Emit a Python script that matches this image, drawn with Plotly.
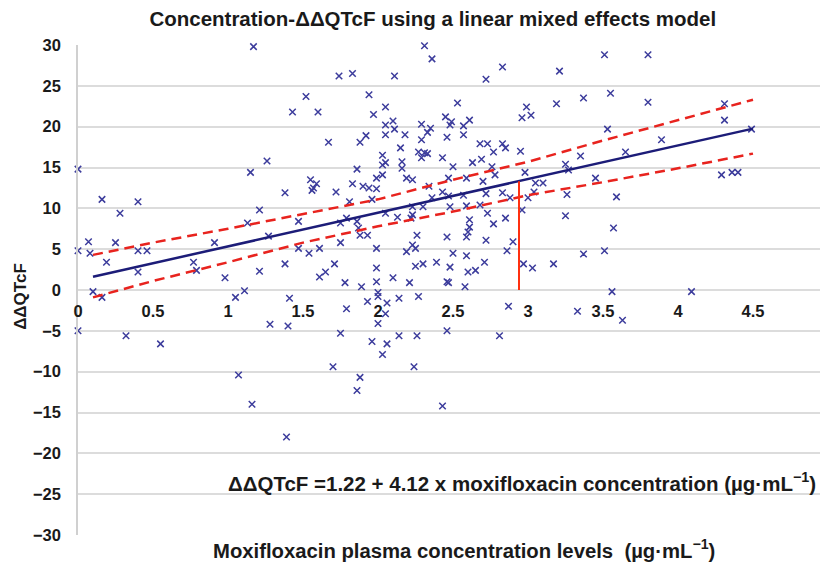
import plotly.graph_objects as go

# Observed data points (moxifloxacin concentration, ΔΔQTcF)
conc = [0.00, 0.00, 0.00, 0.07, 0.08, 0.10, 0.16, 0.16, 0.19, 0.25, 0.28, 0.32, 0.40, 0.40, 0.46, 0.40,
        0.55, 0.77, 0.79, 0.91, 0.98, 1.05, 1.07, 1.11, 1.13, 1.15, 1.16, 1.17, 1.21, 1.21, 1.26, 1.27,
        1.28, 1.38, 1.38, 1.39, 1.40, 1.41, 1.43, 1.47, 1.47, 1.52, 1.54, 1.55, 1.57, 1.59, 1.56, 1.60,
        1.61, 1.61, 1.65, 1.67, 1.70, 1.71, 1.72, 1.74, 1.75, 1.75, 1.75, 1.78, 1.79, 1.79, 1.81, 1.83,
        1.83, 1.86, 1.86, 1.86, 1.87, 1.88, 1.88, 1.88, 1.89, 1.90, 1.92, 1.93, 1.93, 1.94, 1.94, 1.96,
        1.96, 1.97, 1.99, 1.99, 1.99, 1.99, 1.99, 2.00, 2.00, 2.00, 2.03, 2.03, 2.03, 2.03, 2.05, 2.05,
        2.05, 2.05, 2.05, 2.05, 2.06, 2.06, 2.10, 2.10, 2.11, 2.11, 2.13, 2.14, 2.14, 2.15, 2.16, 2.16,
        2.18, 2.19, 2.19, 2.21, 2.23, 2.23, 2.23, 2.22, 2.23, 2.24, 2.25, 2.25, 2.26, 2.26, 2.27, 2.27,
        2.29, 2.29, 2.29, 2.30, 2.30, 2.31, 2.31, 2.33, 2.33, 2.34, 2.35, 2.36, 2.36, 2.39, 2.43, 2.43,
        2.43, 2.45, 2.46, 2.46, 2.46, 2.47, 2.46, 2.47, 2.47, 2.48, 2.48, 2.48, 2.49, 2.50, 2.50, 2.53,
        2.57, 2.57, 2.57, 2.58, 2.59, 2.59, 2.59, 2.59, 2.60, 2.60, 2.61, 2.61, 2.61, 2.63, 2.65, 2.68,
        2.68, 2.69, 2.70, 2.71, 2.72, 2.72, 2.72, 2.73, 2.73, 2.76, 2.77, 2.77, 2.78, 2.81, 2.83, 2.83,
        2.83, 2.85, 2.85, 2.86, 2.87, 2.88, 2.90, 2.95, 2.96, 2.96, 2.97, 2.98, 2.99, 3.00, 3.02, 3.03,
        3.04, 3.05, 3.10, 3.17, 3.19, 3.21, 3.25, 3.25, 3.26, 3.27, 3.33, 3.35, 3.37, 3.37, 3.45, 3.51,
        3.51, 3.53, 3.55, 3.56, 3.57, 3.59, 3.63, 3.65, 3.80, 3.80, 3.89, 4.09, 4.29, 4.31, 4.31, 4.36,
        4.40, 4.49]
dqtcf = [14.8, 4.8, -5.0, 5.9, 4.5, -0.2, -0.9, 11.1, 3.4, 5.8, 9.4, -5.6, 10.8, 4.8, 4.8, 2.2,
         -6.6, 3.4, 2.4, 5.8, 1.5, -0.9, -10.4, -0.1, 8.2, 14.4, -14.0, 29.8, 9.8, 2.3, 15.8, 6.6,
         -4.2, 11.9, 3.2, -18.0, -4.4, -1.0, 21.8, 8.4, 5.1, 23.7, 4.5, 13.5, 12.5, 13.0, 12.2, 21.8,
         5.1, 1.6, 2.2, 18.1, -9.4, 3.2, 12.0, 26.2, 8.2, 5.8, -5.3, 0.9, 8.8, -2.3, 10.8, 26.5,
         13.0, 14.8, 8.4, -12.3, 7.6, 18.1, 6.7, -10.7, 0.4, 12.7, 18.9, 6.7, -1.4, 23.9, 12.5, 11.1,
         -6.3, 21.5, 13.7, 12.4, 5.1, 2.7, 1.0, -0.3, -0.8, -4.1, 16.5, 15.3, 14.1, -7.9, 22.4, 20.2,
         19.0, 15.6, 9.4, -2.9, -1.6, -6.6, 20.7, 1.5, 26.2, 19.7, 8.9, -1.0, -5.6, 17.4, 15.7, 14.9,
         19.0, 13.7, 4.7, 0.9, 13.5, 10.2, 9.2, 8.8, 5.5, -9.4, 5.1, 2.9, 6.7, -5.6, 16.9, -0.8,
         20.3, 18.4, 16.2, 10.2, 3.2, 29.9, 16.8, 19.3, 16.7, 12.7, 19.8, 28.3, 11.3, 3.4, 16.2, 12.0,
         -14.2, 21.2, 18.7, 6.5, 1.0, 0.9, -5.0, 13.7, 11.5, 20.2, 10.2, 2.8, 20.6, 15.1, 4.5, 22.9,
         20.1, 19.0, 11.6, 0.4, 13.7, 10.3, 6.5, 4.2, 7.1, 2.2, 20.8, 8.6, 7.7, 15.6, 2.4, 17.9,
         10.4, 16.0, 13.3, 3.4, 25.8, 11.8, 6.1, 17.9, 9.4, 15.1, 16.9, 8.1, 14.1, -5.6, 27.3, 17.9,
         11.9, 17.4, 8.8, 4.8, -2.0, 11.3, 5.9, 17.0, 21.1, 9.8, 3.2, 14.4, 22.4, 11.3, 21.4, 2.7,
         12.0, 13.1, 13.1, 3.2, 22.8, 26.8, 15.4, 9.1, 11.7, 14.7, -2.6, 16.4, 23.5, 4.4, 13.7, 28.8,
         4.8, 19.7, 24.1, -0.2, 7.6, 11.4, -3.7, 16.9, 28.8, 23.0, 18.4, -0.2, 14.1, 22.8, 20.8, 14.4,
         14.4, 19.7]

# Fitted model line (ends)
fit_x = [0.1, 4.5]
fit_y = [1.63, 19.76]

# Confidence bounds
ci_x = [0.1, 0.5, 1.0, 1.5, 2.0, 2.5, 3.0, 3.5, 4.0, 4.5]
ci_upper = [4.3, 5.8, 7.5, 9.3, 11.1, 13.5, 15.7, 18.3, 20.8, 23.3]
ci_lower = [-0.9, 1.1, 3.4, 5.8, 7.8, 9.6, 11.6, 13.2, 14.9, 16.7]

# Vertical marker
cmax_x = [2.94, 2.94]
cmax_y = [0, 13.33]

x_ticks = [0, 0.5, 1, 1.5, 2, 2.5, 3, 3.5, 4, 4.5, 5]
x_tick_labels = ["0", "0.5", "1", "1.5", "2", "2.5", "3", "3.5", "4", "4.5", "5"]
y_ticks = list(range(-30, 31, 5))

FONT = "Arial, Liberation Sans, sans-serif"
INK = "#1a1a1a"

fig = go.Figure()
fig.add_trace(go.Scatter(x=conc, y=dqtcf, mode="markers",
                         marker=dict(symbol="x-thin", size=6.5, color="#3c3c9c",
                                     line=dict(width=1.5, color="#3c3c9c")),
                         showlegend=False, cliponaxis=False))
fig.add_trace(go.Scatter(x=ci_x, y=ci_upper, mode="lines",
                         line=dict(color="#e8231e", width=2.5, dash="10px,6px"), showlegend=False))
fig.add_trace(go.Scatter(x=ci_x, y=ci_lower, mode="lines",
                         line=dict(color="#e8231e", width=2.5, dash="10px,6px"), showlegend=False))
fig.add_trace(go.Scatter(x=fit_x, y=fit_y, mode="lines",
                         line=dict(color="#1c1c78", width=2.5), showlegend=False))
fig.add_trace(go.Scatter(x=cmax_x, y=cmax_y, mode="lines",
                         line=dict(color="#ff3010", width=2), showlegend=False))

# The page body adds an 8px margin, so the figure is sized/positioned to compensate
fig.update_layout(
    width=820, height=555,
    margin=dict(l=70, r=0, t=37, b=28, autoexpand=False),
    paper_bgcolor="white", plot_bgcolor="white",
    font=dict(family=FONT, color=INK),
    title=dict(text="Concentration-ΔΔQTcF using a linear mixed effects model",
               x=0.518, xanchor="center", y=0.980, yanchor="middle", yref="container",
               font=dict(size=20.5, weight="bold", family=FONT, color=INK)),
    xaxis=dict(range=[0, 5], tickvals=x_ticks, ticktext=x_tick_labels, automargin=False,
               anchor="free", position=0.5, showgrid=False, zeroline=False, showline=False,
               ticks="outside", ticklen=6, tickcolor="rgba(0,0,0,0)", ticklabeloverflow="allow",
               tickfont=dict(size=16.5, weight="bold", family=FONT, color=INK)),
    yaxis=dict(range=[-30, 30], tickvals=y_ticks, showgrid=True, gridcolor="#dcdcdc", gridwidth=1.5,
               zeroline=False, showline=True, linecolor="#d0d0d0", linewidth=1.5, automargin=False,
               ticks="", ticklabelstandoff=12,
               tickfont=dict(size=16.5, weight="bold", family=FONT, color=INK)),
    annotations=[
        dict(text="ΔΔQTcF =1.22 + 4.12 x moxifloxacin concentration (µg·mL<sup>−1</sup>)",
             x=2.96, y=-23.5, xref="x", yref="y", showarrow=False, xanchor="center", yanchor="middle",
             font=dict(size=20.5, weight="bold", family=FONT, color=INK)),
        dict(text="Moxifloxacin plasma concentration levels  (µg·mL<sup>−1</sup>)",
             x=2.57, y=-0.028, xref="x", yref="paper", showarrow=False, xanchor="center", yanchor="middle",
             font=dict(size=20.3, weight="bold", family=FONT, color=INK)),
        dict(text="ΔΔQTcF", textangle=-90, x=-0.076, y=0.486, xref="paper", yref="paper",
             showarrow=False, xanchor="center", yanchor="middle",
             font=dict(size=17, weight="bold", family=FONT, color=INK)),
    ],
)

fig.write_html("out.html")
